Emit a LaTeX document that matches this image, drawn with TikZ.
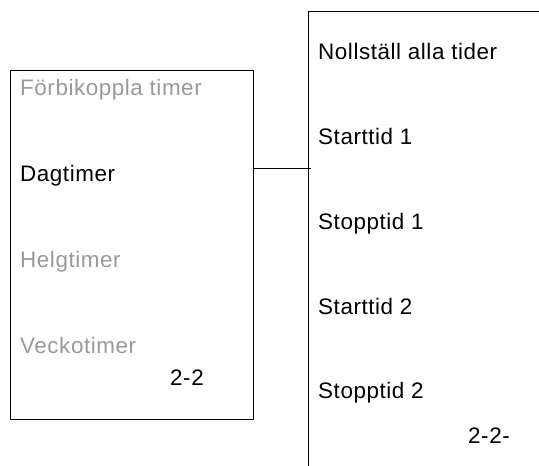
\documentclass[tikz,border=0pt]{standalone}
\usepackage{fontspec}
\setmainfont{Liberation Sans}[LetterSpace=2.5]
\definecolor{greytxt}{HTML}{999999}
\begin{document}
\begin{tikzpicture}[x=1bp,y=-1bp,
  item/.style={anchor=base west,inner sep=0pt,font=\fontsize{22.5}{27}\selectfont},
  dim/.style={item,text=greytxt},
  frame/.style={draw=black,line width=1bp}]
\useasboundingbox (0,0) rectangle (539,466);
% left box
\node[frame,rectangle,minimum width=243bp,minimum height=349bp,anchor=north west,inner sep=0pt] (leftbox) at (10,70) {};
\node[dim] (t1) at (20,96) {Förbikoppla timer};
\node[item] (t2) at (20,182) {Dagtimer};
\node[dim] (t3) at (20,268) {Helgtimer};
\node[dim] (t4) at (20,353) {Veckotimer};
\node[item] (p1) at (170,385) {2-2};
% right panel
\coordinate (rb) at (308,470);
\coordinate (rt) at (308,12);
\coordinate (rr) at (545,12);
\draw[frame] (rb) -- (rt) -- (rr);
\coordinate (join) at (311,169);
\draw[frame] (leftbox.east |- join) -- (join);
\node[item] (r1) at (318,60) {Nollställ alla tider};
\node[item] (r2) at (318,145) {Starttid 1};
\node[item] (r3) at (318,230) {Stopptid 1};
\node[item] (r4) at (318,314) {Starttid 2};
\node[item] (r5) at (318,398) {Stopptid 2};
\node[item] (p2) at (468,443) {2-2-};
\end{tikzpicture}
\end{document}
